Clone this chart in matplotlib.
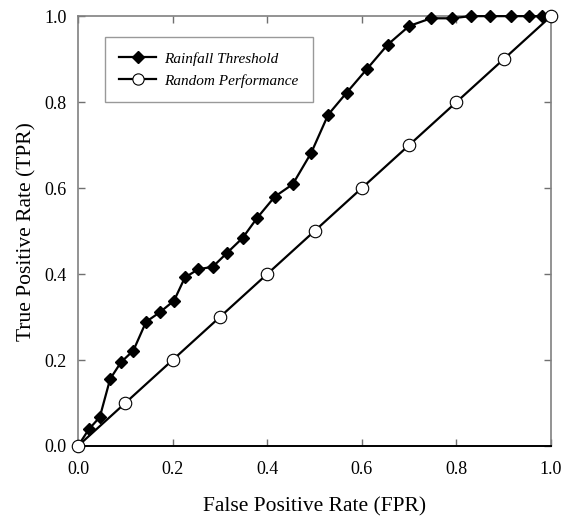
import matplotlib
matplotlib.use('Agg')
from matplotlib import pyplot as plt

plt.rcParams['font.family'] = ['Liberation Serif', 'DejaVu Serif']

# data
fpr_rain = [0.0, 0.023, 0.046, 0.068, 0.091, 0.117, 0.144, 0.173, 0.203, 0.226, 0.254,
            0.285, 0.314, 0.348, 0.379, 0.416, 0.454, 0.493, 0.529, 0.568, 0.610,
            0.655, 0.700, 0.746, 0.790, 0.830, 0.872, 0.916, 0.953, 0.980, 1.0]
tpr_rain = [0.0, 0.039, 0.067, 0.156, 0.195, 0.222, 0.289, 0.311, 0.338, 0.392, 0.411,
            0.417, 0.448, 0.484, 0.531, 0.580, 0.609, 0.682, 0.771, 0.822, 0.876,
            0.934, 0.977, 0.995, 0.995, 1.0, 1.0, 1.0, 1.0, 1.0, 1.0]
fpr_random = [0.0, 0.1, 0.2, 0.3, 0.4, 0.5, 0.6, 0.7, 0.8, 0.9, 1.0]
tpr_random = [0.0, 0.1, 0.2, 0.3, 0.4, 0.5, 0.6, 0.7, 0.8, 0.9, 1.0]
ticks = [0.0, 0.2, 0.4, 0.6, 0.8, 1.0]
tick_labels = ['0.0', '0.2', '0.4', '0.6', '0.8', '1.0']

fig = plt.figure(figsize=(5.64, 5.21), dpi=100)
ax = fig.add_axes([0.1383, 0.144, 0.8387, 0.825])

ax.plot(fpr_rain, tpr_rain, color='black', lw=1.6, marker='D', ms=6.5,
        mfc='black', mec='black', label='Rainfall Threshold', clip_on=False, zorder=3)
ax.plot(fpr_random, tpr_random, color='black', lw=1.6, marker='o', ms=9,
        mfc='white', mec='black', mew=0.8, label='Random Performance', clip_on=False, zorder=4)

ax.set_xlim(0, 1)
ax.set_ylim(0, 1)
ax.set_xticks(ticks)
ax.set_xticklabels(tick_labels)
ax.set_yticks(ticks)
ax.set_yticklabels(tick_labels)
ax.tick_params(direction='in', top=True, right=True, length=5, width=1,
               colors='#707070', labelcolor='black', labelsize=13)
ax.tick_params(axis='x', pad=10.5)
ax.tick_params(axis='y', pad=8)

for side in ['left', 'top', 'right']:
    ax.spines[side].set_color('#808080')
    ax.spines[side].set_linewidth(1.2)
ax.spines['bottom'].set_color('black')
ax.spines['bottom'].set_linewidth(1.4)

ax.set_xlabel('False Positive Rate (FPR)', fontsize=15.5, labelpad=14)
ax.set_ylabel('True Positive Rate (TPR)', fontsize=15.5, labelpad=6)

leg = ax.legend(loc='upper left', bbox_to_anchor=(0.057, 0.951), borderaxespad=0,
                prop={'style': 'italic', 'size': 11}, fancybox=False,
                edgecolor='#808080', handlelength=2.4, borderpad=0.95,
                labelspacing=0.55, handletextpad=0.5)
leg.get_frame().set_linewidth(1.0)
for h in leg.legend_handles:
    h.set_markersize(h.get_markersize() * 0.9)

fig.savefig('out.png', dpi=100)
